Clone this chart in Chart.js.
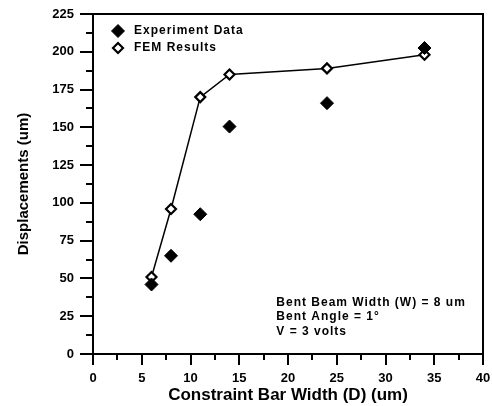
<!DOCTYPE html>
<html>
<head>
<meta charset="utf-8">
<script src="https://cdn.jsdelivr.net/npm/chart.js@4/dist/chart.umd.min.js"></script>
<style>
  body { margin: 0; background: #fff; }
  canvas { display: block; }
</style>
</head>
<body>
<canvas id="myChart" width="492" height="406"></canvas>
<script>
// values
const barWidths = [6, 8, 11, 14, 24, 34];
const experimentData = [46, 65, 92.5, 150.5, 166, 202.5];
const femResults = [51, 96, 170, 185, 189, 198];
const legendLabels = ["Experiment Data", "FEM Results"];
const noteLines = ["Bent Beam Width (W) = 8 um", "Bent Angle = 1\u00B0", "V = 3 volts"];

const fontFamily = "'Liberation Sans', Arial, sans-serif";

function toPoints(ys) {
  return barWidths.map((x, i) => ({ x: x, y: ys[i] }));
}

// outward major/minor ticks, box frame, legend and note
const extras = {
  id: "extras",
  afterDraw(chart) {
    const ctx = chart.ctx;
    const area = chart.chartArea;
    const xs = chart.scales.x;
    const ys = chart.scales.y;
    ctx.save();
    ctx.strokeStyle = "#000";
    ctx.lineWidth = 2;
    ctx.strokeRect(area.left, area.top, area.right - area.left, area.bottom - area.top);

    for (let v = 0; v <= 225; v += 12.5) {
      let py = Math.round(ys.getPixelForValue(v));
      let len = v % 25 === 0 ? 13 : 7;
      ctx.beginPath();
      ctx.moveTo(area.left, py);
      ctx.lineTo(area.left - len, py);
      ctx.stroke();
    }
    for (let v = 0; v <= 40; v += 2.5) {
      let px = Math.round(xs.getPixelForValue(v));
      let len = v % 5 === 0 ? 11 : 6;
      ctx.beginPath();
      ctx.moveTo(px, area.bottom);
      ctx.lineTo(px, area.bottom + len);
      ctx.stroke();
    }

    // legend
    ctx.fillStyle = "#000";
    ctx.font = "bold 12px " + fontFamily;
    ctx.letterSpacing = "1px";
    ctx.textBaseline = "middle";
    legendLabels.forEach((label, i) => {
      let ly = area.top + 17 + i * 17;
      let lx = area.left + 25;
      ctx.lineWidth = i === 0 ? 1 : 2.2;
      ctx.fillStyle = i === 0 ? "#000" : "#fff";
      Chart.helpers.drawPoint(ctx, { pointStyle: "rectRot", radius: i === 0 ? 6.5 : 5, rotation: 0, borderWidth: ctx.lineWidth }, lx, ly);
      ctx.fillStyle = "#000";
      ctx.fillText(label, lx + 16, ly);
    });

    // note text
    noteLines.forEach((line, i) => {
      ctx.fillText(line, xs.getPixelForValue(18.8), ys.getPixelForValue(34) + i * 14.5);
    });
    ctx.restore();
  }
};

const ctx = document.getElementById("myChart").getContext("2d");
const myChart = new Chart(ctx, {
  type: "scatter",
  data: {
    datasets: [
      {
        label: legendLabels[0],
        data: toPoints(experimentData),
        showLine: false,
        pointStyle: "rectRot",
        pointRadius: 6.5,
        pointBackgroundColor: "#000",
        pointBorderColor: "#000",
        pointBorderWidth: 1
      },
      {
        label: legendLabels[1],
        data: toPoints(femResults),
        showLine: true,
        borderColor: "#000",
        borderWidth: 1.5,
        pointStyle: "rectRot",
        pointRadius: 5,
        pointBackgroundColor: "#fff",
        pointBorderColor: "#000",
        pointBorderWidth: 2.2
      }
    ]
  },
  options: {
    responsive: false,
    animation: false,
    layout: { padding: { top: 14, right: 9, left: 0, bottom: 0 } },
    plugins: {
      legend: { display: false },
      tooltip: { enabled: false }
    },
    scales: {
      x: {
        type: "linear",
        min: 0,
        max: 40,
        afterFit: (s) => { s.height = 52; s.paddingLeft = 0; s.paddingRight = 0; },
        ticks: {
          stepSize: 5,
          padding: 17,
          color: "#000",
          font: { family: fontFamily, size: 13, weight: "bold" }
        },
        grid: { display: true, drawOnChartArea: false, drawTicks: false, tickLength: 0 },
        border: { display: true, color: "#000", width: 2 },
        title: {
          display: true,
          text: "Constraint Bar Width (D) (um)",
          color: "#000",
          padding: { top: 2, bottom: 0 },
          font: { family: fontFamily, size: 17, weight: "bold" }
        }
      },
      y: {
        min: 0,
        max: 225,
        afterFit: (s) => { s.width = 93; s.paddingTop = 0; s.paddingBottom = 0; },
        ticks: {
          stepSize: 25,
          padding: 19,
          color: "#000",
          font: { family: fontFamily, size: 13, weight: "bold" }
        },
        grid: { display: true, drawOnChartArea: false, drawTicks: false, tickLength: 0 },
        border: { display: true, color: "#000", width: 2 },
        title: {
          display: true,
          text: "Displacements (um)",
          color: "#000",
          padding: { top: 15, bottom: 0 },
          font: { family: fontFamily, size: 15, weight: "bold" }
        }
      }
    }
  },
  plugins: [extras]
});
</script>
</body>
</html>
